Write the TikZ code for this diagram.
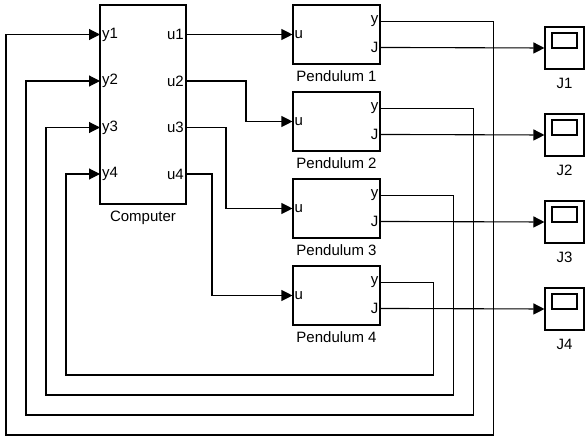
\documentclass[tikz,border=0pt]{standalone}
\usepackage{fontspec}
\setmainfont{Liberation Sans}
\usetikzlibrary{arrows.meta, positioning, calc}

\begin{document}
\begin{tikzpicture}[
    x=1pt, y=-1pt,
    font=\fontsize{15}{17}\selectfont,
    block/.style={rectangle, draw, line width=1.1pt, inner sep=0pt},
    plant/.style={block, minimum width=87pt, minimum height=59pt},
    scope/.style={block, minimum width=39pt, minimum height=42pt},
    screen/.style={block, minimum width=25pt, minimum height=15pt},
    port/.style={inner sep=2pt},
    caption/.style={inner sep=0pt},
    arrow/.style={-{Triangle[length=11pt, width=11pt]}, line width=1.1pt},
]
    \useasboundingbox (0,0) rectangle (586,436);

    % Computer
    \node[block, minimum width=86pt, minimum height=199pt] (comp) at (143,104.5) {};
    \node[caption, below=6pt of comp] (complbl) {Computer};
    \coordinate (cy1) at (100,34.5);
    \coordinate (cy2) at (100,81);
    \coordinate (cy3) at (100,127.5);
    \coordinate (cy4) at (100,174);
    \coordinate (cu1) at (186,34.5);
    \coordinate (cu2) at (186,81);
    \coordinate (cu3) at (186,127.5);
    \coordinate (cu4) at (186,174);
    \node[port, anchor=west] (ly1) at (cy1) {y1};
    \node[port, anchor=west] (ly2) at (cy2) {y2};
    \node[port, anchor=west] (ly3) at (cy3) {y3};
    \node[port, anchor=west] (ly4) at (cy4) {y4};
    \node[port, anchor=east] (lu1) at (cu1) {u1};
    \node[port, anchor=east] (lu2) at (cu2) {u2};
    \node[port, anchor=east] (lu3) at (cu3) {u3};
    \node[port, anchor=east] (lu4) at (cu4) {u4};

    % Pendulums
    \node[plant] (p1) at (336.5,34.5) {};
    \node[plant] (p2) at (336.5,121.5) {};
    \node[plant] (p3) at (336.5,208.5) {};
    \node[plant] (p4) at (336.5,295.5) {};
    \node[caption, below=6pt of p1] (p1lbl) {Pendulum 1};
    \node[caption, below=6pt of p2] (p2lbl) {Pendulum 2};
    \node[caption, below=6pt of p3] (p3lbl) {Pendulum 3};
    \node[caption, below=6pt of p4] (p4lbl) {Pendulum 4};
    \coordinate (p1y) at ($(p1.north east)+(0,17)$);
    \coordinate (p2y) at ($(p2.north east)+(0,17)$);
    \coordinate (p3y) at ($(p3.north east)+(0,17)$);
    \coordinate (p4y) at ($(p4.north east)+(0,17)$);
    \coordinate (p1J) at ($(p1.north east)+(0,43)$);
    \coordinate (p2J) at ($(p2.north east)+(0,43)$);
    \coordinate (p3J) at ($(p3.north east)+(0,43)$);
    \coordinate (p4J) at ($(p4.north east)+(0,43)$);
    \node[port, anchor=west] (p1u) at (p1.west) {u};
    \node[port, anchor=west] (p2u) at (p2.west) {u};
    \node[port, anchor=west] (p3u) at (p3.west) {u};
    \node[port, anchor=west] (p4u) at (p4.west) {u};
    \node[port, anchor=east] (p1ly) at (p1y) {y};
    \node[port, anchor=east] (p2ly) at (p2y) {y};
    \node[port, anchor=east] (p3ly) at (p3y) {y};
    \node[port, anchor=east] (p4ly) at (p4y) {y};
    \node[port, anchor=east] (p1lJ) at (p1J) {J};
    \node[port, anchor=east] (p2lJ) at (p2J) {J};
    \node[port, anchor=east] (p3lJ) at (p3J) {J};
    \node[port, anchor=east] (p4lJ) at (p4J) {J};

    % Scopes
    \node[scope] (s1) at (564.5,48) {};
    \node[scope] (s2) at (564.5,135) {};
    \node[scope] (s3) at (564.5,222) {};
    \node[scope] (s4) at (564.5,309) {};
    \node[screen] (s1screen) at ($(s1)+(0,-7.5)$) {};
    \node[screen] (s2screen) at ($(s2)+(0,-7.5)$) {};
    \node[screen] (s3screen) at ($(s3)+(0,-7.5)$) {};
    \node[screen] (s4screen) at ($(s4)+(0,-7.5)$) {};
    \node[caption, below=8pt of s1] (s1lbl) {J1};
    \node[caption, below=8pt of s2] (s2lbl) {J2};
    \node[caption, below=8pt of s3] (s3lbl) {J3};
    \node[caption, below=8pt of s4] (s4lbl) {J4};

    % Feedback corners
    \coordinate (fb1) at (6,435);
    \coordinate (fb2) at (26,415);
    \coordinate (fb3) at (46,395);
    \coordinate (fb4) at (66,375);

    % Control signals
    \draw[arrow] (cu1) -- (p1.west);
    \draw[arrow] (cu2) -- ++(60,0) |- (p2.west);
    \draw[arrow] (cu3) -- ++(40,0) |- (p3.west);
    \draw[arrow] (cu4) -- ++(26,0) |- (p4.west);

    % Measurements back to the computer
    \draw[arrow] (p1y) -- ++(113,0) |- (fb1) |- (cy1);
    \draw[arrow] (p2y) -- ++(93,0) |- (fb2) |- (cy2);
    \draw[arrow] (p3y) -- ++(73,0) |- (fb3) |- (cy3);
    \draw[arrow] (p4y) -- ++(53,0) |- (fb4) |- (cy4);

    % Costs to scopes
    \draw[arrow] (p1J) -- (s1.west);
    \draw[arrow] (p2J) -- (s2.west);
    \draw[arrow] (p3J) -- (s3.west);
    \draw[arrow] (p4J) -- (s4.west);
\end{tikzpicture}
\end{document}
